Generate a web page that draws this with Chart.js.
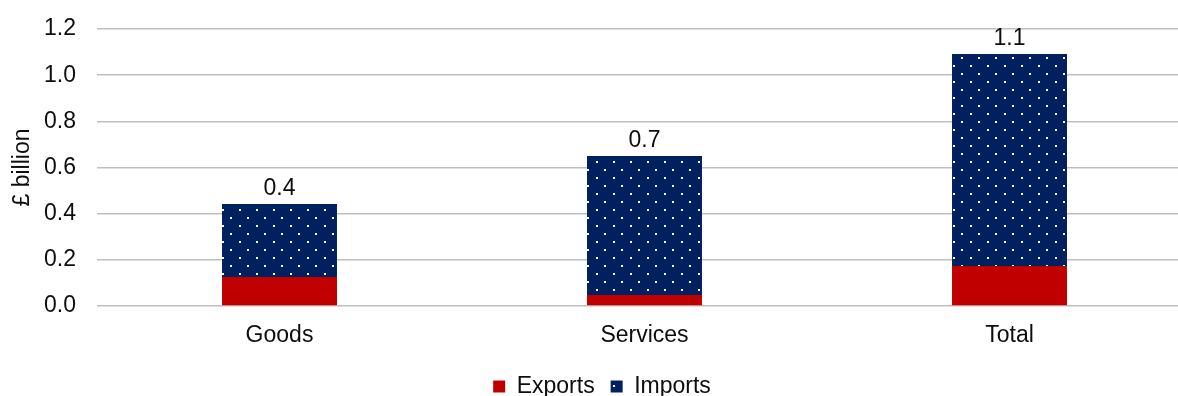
<!DOCTYPE html>
<html lang="en">
<head>
  <meta charset="UTF-8" />
  <title>Exports and imports</title>
  <script src="https://cdn.jsdelivr.net/npm/chart.js@4.4.0/dist/chart.umd.min.js"></script>
  <style>
    html, body { margin: 0; padding: 0; background: #fff; overflow: hidden; }
    #wrap { width: 1207px; height: 408px; }
  </style>
</head>
<body>
  <div id="wrap"><canvas id="tradeChart"></canvas></div>

  <script>
    // Data (£ billion)
    const categories = ['Goods', 'Services', 'Total'];
    const exportsData = [0.126, 0.048, 0.173];
    const importsData = [0.316, 0.602, 0.919];
    const totalLabels = ['0.4', '0.7', '1.1'];
    const yTicks = [0, 0.2, 0.4, 0.6, 0.8, 1.0, 1.2];

    const FONT = 'Arial, "Liberation Sans", sans-serif';
    const TEXT = '#0d0d0d';
    const FS = 23;

    // dotted navy fill for imports
    function dotPattern() {
      const c = document.createElement('canvas');
      c.width = 17; c.height = 16;
      const g = c.getContext('2d');
      g.fillStyle = '#002060';
      g.fillRect(0, 0, 17, 16);
      g.fillStyle = '#ffffff';
      g.fillRect(1, 1, 2, 2);
      g.fillRect(9, 9, 2, 2);
      return g.createPattern(c, 'repeat');
    }

    // draws the total above each stack
    const totalsPlugin = {
      id: 'totals',
      afterLayout(chart) {
        // nudge legend a little right, like the original
        chart.legend.left += 6;
        chart.legend.right += 6;
      },
      afterDatasetsDraw(chart) {
        const ctx = chart.ctx;
        const x = chart.scales.x, y = chart.scales.y;
        ctx.save();
        ctx.font = FS + 'px ' + FONT;
        ctx.fillStyle = TEXT;
        ctx.textAlign = 'center';
        ctx.textBaseline = 'middle';
        categories.forEach((c, i) => {
          const total = exportsData[i] + importsData[i];
          ctx.fillText(totalLabels[i], x.getPixelForValue(i), y.getPixelForValue(total) - 15);
        });
        ctx.restore();
      }
    };

    Chart.defaults.font.family = FONT;
    Chart.defaults.color = TEXT;

    new Chart(document.getElementById('tradeChart'), {
      type: 'bar',
      data: {
        labels: categories,
        datasets: [
          {
            label: 'Exports',
            data: exportsData,
            backgroundColor: '#c00000',
            categoryPercentage: 1,
            barPercentage: 0.315
          },
          {
            label: 'Imports',
            data: importsData,
            backgroundColor: dotPattern(),
            categoryPercentage: 1,
            barPercentage: 0.315
          }
        ]
      },
      options: {
        responsive: true,
        maintainAspectRatio: false,
        animation: false,
        layout: { padding: { top: 29, right: 15, left: 0, bottom: 0 } },
        plugins: {
          tooltip: { enabled: false },
          legend: {
            position: 'bottom',
            labels: {
              boxWidth: 12,
              boxHeight: 12,
              padding: 16,
              font: { size: FS },
              color: TEXT
            }
          }
        },
        scales: {
          x: {
            stacked: true,
            grid: { display: false },
            border: { display: false },
            ticks: { font: { size: FS }, color: TEXT, padding: 8 },
            afterFit: s => { s.height = 53; }
          },
          y: {
            stacked: true,
            min: 0,
            max: 1.2,
            afterBuildTicks: s => { s.ticks = yTicks.map(v => ({ value: v })); },
            border: { display: false },
            grid: { color: '#bfbfbf', lineWidth: 1.5, drawTicks: false },
            ticks: {
              font: { size: FS },
              color: TEXT,
              padding: 21,
              callback: v => v.toFixed(1)
            },
            title: {
              display: true,
              text: '£ billion',
              font: { size: FS },
              color: TEXT,
              padding: { top: 9, bottom: 0 }
            },
            afterFit: s => {
              s.width = 97;
              s.paddingTop = 0;
              s.paddingBottom = 0;
            }
          }
        }
      },
      plugins: [totalsPlugin]
    });
  </script>
</body>
</html>
